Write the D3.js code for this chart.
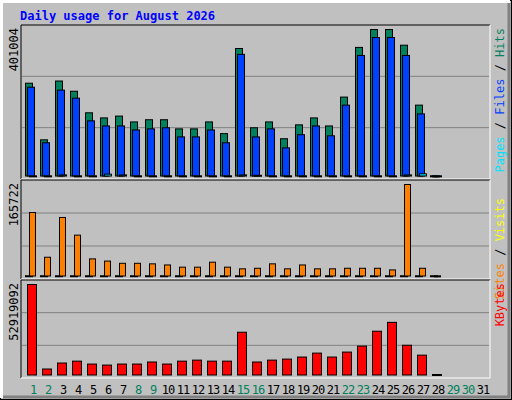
<!DOCTYPE html><html><head><script src="https://cdn.jsdelivr.net/npm/d3@7"></script>
<style>body{margin:0}svg{display:block}</style></head><body><script>
const days=d3.range(1,32);
const weekend=[1,2,8,9,15,16,22,23,29,30];
const hits=[254000,99000,260000,232000,173000,159000,164000,148000,154000,154000,129000,129000,148000,116000,349000,132000,148000,102000,140000,159000,137000,216000,352000,401004,401004,358000,194000,600,0,0,0];
const files=[243000,91000,235000,213000,151000,137000,137000,126000,129000,132000,107000,107000,126000,91000,333000,107000,129000,77000,113000,137000,110000,194000,330000,379000,379000,330000,170000,500,0,0,0];
const pages=[500,500,3000,500,500,5000,3000,500,500,500,500,500,500,500,3000,2000,500,500,500,500,500,500,500,500,500,3000,6000,500,0,0,0];
const sites=[115000,34000,106000,74000,31000,27000,23000,23000,22000,20000,16000,16000,25000,16000,13000,14000,22000,13000,20000,13000,13000,14000,14000,14000,11000,165722,14000,300,0,0,0];
const visits=[500,500,500,500,500,500,500,500,500,500,500,500,500,500,500,500,500,500,500,500,500,500,500,500,500,500,500,500,0,0,0];
const kbytes=[52919092,3500000,7000000,8100000,6400000,5800000,6400000,6400000,7600000,6400000,8100000,8700000,8100000,8100000,25000000,7600000,8700000,9300000,10500000,12800000,10500000,13400000,16900000,25600000,30800000,17400000,11600000,300000,0,0,0];
const W=512,H=400,mono="'DejaVu Sans Mono','Liberation Mono',monospace";
const svg=d3.select("body").append("svg").attr("width",W).attr("height",H);
svg.append("rect").attr("width",W).attr("height",H).attr("fill","#c0c0c0");
// outer bevel
svg.append("rect").attr("x",0.5).attr("y",0.5).attr("width",W-1).attr("height",H-1).attr("fill","none").attr("stroke","#000");
svg.append("path").attr("d",`M1.5,${H-2}V1.5H${W-2}`).attr("fill","none").attr("stroke","#fff").attr("stroke-width",3);
svg.append("path").attr("d",`M${W-3},3V${H-3}H3`).attr("fill","none").attr("stroke","#808080").attr("stroke-width",3);
svg.append("text").attr("x",20).attr("y",20).attr("font-family",mono).attr("font-weight","bold").attr("font-size",12).attr("fill","#0000ff").text("Daily usage for August 2026");
const x=d3.scaleLinear().domain([1,32]).range([25,490]);
function panel(y0,y1,max,label){
  svg.append("path").attr("d",`M21,${y1}V${y0}H${490}`).attr("fill","none").attr("stroke","#000");
  svg.append("path").attr("d",`M490,${y0}V${y1}H21`).attr("fill","none").attr("stroke","#fff");
  const y=d3.scaleLinear().domain([0,max]).range([y1-3.5,y0+4]);
  const g=(y1-y0)/3;
  [1,2].forEach(i=>svg.append("line").attr("x1",22).attr("x2",489).attr("y1",y0+g*i).attr("y2",y0+g*i).attr("stroke","#808080"));
  svg.append("text").attr("transform",`translate(18,${y0+3}) rotate(-90)`).attr("text-anchor","end").attr("font-family",mono).attr("font-size",12).attr("fill","#000").text(label);
  return y;
}
function bars(y,data,off,w,fill){
  svg.append("g").selectAll("rect").data(days.filter(d=>data[d-1]>0)).join("rect")
   .attr("x",d=>x(d)+off+0.5).attr("width",w).attr("y",d=>y(data[d-1])+0.5)
   .attr("height",d=>Math.max(1,y(0)-y(data[d-1]))).attr("fill",fill).attr("stroke","#000");
}
const y1=panel(25,179,401004,"401004");
bars(y1,hits,0,7,"#00805c");bars(y1,files,2,7,"#0040ff");bars(y1,pages,4,7,"#00e0ff");
const y2=panel(180,279,165722,"165722");
bars(y2,visits,0,7,"#ffff00");bars(y2,sites,4,6,"#ff8000");
const y3=panel(280,378,52919092,"52919092");
bars(y3,kbytes,2,9,"#ff0000");
svg.append("g").selectAll("text").data(days).join("text").attr("x",d=>x(d)+8).attr("y",394)
 .attr("text-anchor","middle").attr("font-family",mono).attr("font-size",12).attr("letter-spacing",-1)
 .attr("fill",d=>weekend.includes(d)?"#00805c":"#000").text(d=>d);
function rlabel(y,parts){
  const t=svg.append("text").attr("transform",`translate(504,${y}) rotate(-90)`).attr("text-anchor","end").attr("font-family",mono).attr("font-size",12);
  parts.forEach(p=>t.append("tspan").attr("fill",p[1]).text(p[0]));
}
rlabel(28,[["Pages","#00e0ff"],[" / ","#000"],["Files","#0040ff"],[" / ","#000"],["Hits","#00805c"]]);
rlabel(198,[["Sites","#ff8000"],[" / ","#000"],["Visits","#ffff00"]]);
rlabel(283,[["KBytes","#ff0000"]]);
</script></body></html>
